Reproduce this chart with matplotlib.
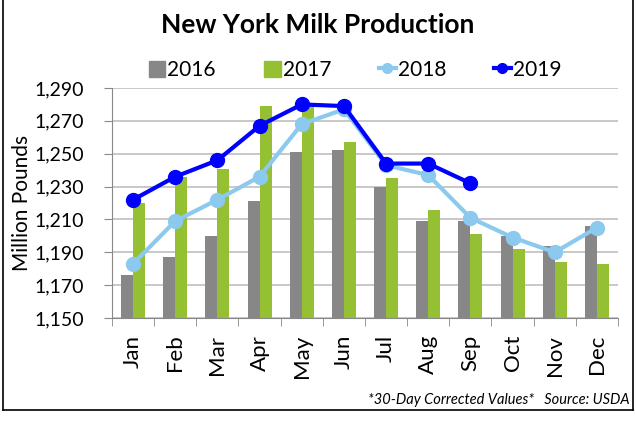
import numpy as np
import matplotlib
matplotlib.use("Agg")
import matplotlib.pyplot as plt
from matplotlib.lines import Line2D
from matplotlib.patches import Patch

months = ["Jan", "Feb", "Mar", "Apr", "May", "Jun", "Jul", "Aug", "Sep", "Oct", "Nov", "Dec"]
y2016 = [1176, 1187, 1200, 1221, 1251, 1252, 1230, 1209, 1209, 1200, 1194, 1206]
y2017 = [1220, 1236, 1241, 1279, 1279, 1257, 1235, 1216, 1201, 1192, 1184, 1183]
y2018 = [1183, 1209, 1222, 1236, 1268, 1277, 1243, 1237, 1211, 1199, 1190, 1205]
y2019 = [1222, 1236, 1246, 1267, 1280, 1279, 1244, 1244, 1232]
yticks = [1150, 1170, 1190, 1210, 1230, 1250, 1270, 1290]

plt.rcParams["font.family"] = ["Lato", "DejaVu Sans"]

fig = plt.figure(figsize=(6.36, 4.23), dpi=100)
ax = fig.add_axes([112 / 636, 1 - 318 / 423, 506 / 636, 230 / 423])

x = np.arange(len(months))
w = 0.285
ax.bar(x - w / 2, y2016, w, color="#878787", zorder=2)
ax.bar(x + w / 2, y2017, w, color="#96c034", zorder=2)
ax.plot(x, y2018, color="#8cc9ee", lw=3, marker="o", ms=10, zorder=3)
ax.plot(x[:len(y2019)], y2019, color="#0000ff", lw=3, marker="o", ms=10, zorder=4)

ax.set_xlim(-0.5, 11.5)
ax.set_ylim(1150, 1290)
ax.set_yticks(yticks)
ax.set_yticklabels([f"{v:,}" for v in yticks], fontsize=14)
ax.set_xticks(x)
ax.set_xticklabels(months, rotation=90, fontsize=16)
ax.set_xticks(np.arange(-0.5, 12, 1), minor=True)
ax.tick_params(axis="x", which="major", length=0, pad=12)
ax.tick_params(axis="x", which="minor", length=6, color="#888888")
ax.tick_params(axis="y", length=6, color="#888888", pad=14)
ax.grid(axis="y", color="#bfbfbf", lw=1.2, zorder=0)
for s in ["top", "right"]:
    ax.spines[s].set_visible(False)
for s in ["left", "bottom"]:
    ax.spines[s].set_color("#888888")
ax.set_ylabel("Million Pounds", fontsize=15)
ax.yaxis.set_label_coords(-80 / 506, 0.5)

fig.text(0.5, 1 - 25 / 423, "New York Milk Production", ha="center", va="center",
         fontsize=19, fontweight="bold")

handles = [Patch(color="#878787"), Patch(color="#96c034"),
           Line2D([], [], color="#8cc9ee", lw=3, marker="o", ms=7),
           Line2D([], [], color="#0000ff", lw=3, marker="o", ms=7)]
fig.legend(handles, ["2016", "2017", "2018", "2019"], ncol=4, loc="center",
           bbox_to_anchor=(355 / 636, 1 - 70 / 423), frameon=False, fontsize=15,
           handlelength=0.8, handletextpad=0.1, columnspacing=2.3, handleheight=0.8)

fig.text(630 / 636, 1 - 400 / 423, "*30-Day Corrected Values*   Source: USDA",
         ha="right", va="center", fontsize=10.5, style="italic")

# outer frame
for xs, ys in [([2.5, 2.5], [0, 410]), ([632.5, 632.5], [0, 410]), ([2.5, 632.5], [410, 410])]:
    fig.add_artist(Line2D([v / 636 for v in xs], [1 - v / 423 for v in ys], color="black", lw=1.2))

fig.savefig("out.png", dpi=100)
